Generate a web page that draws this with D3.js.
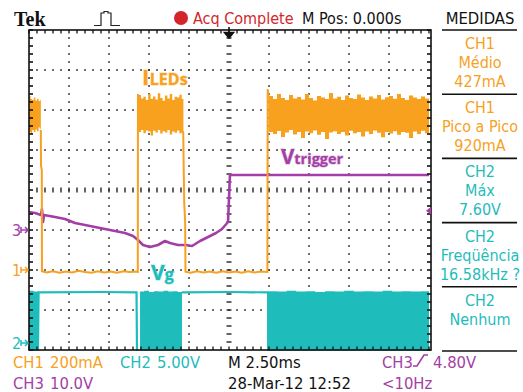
<!DOCTYPE html>
<html>
<head>
<meta charset="utf-8">
<script src="https://cdn.jsdelivr.net/npm/d3@7"></script>
<style>
  html, body { margin: 0; padding: 0; background: #fff; }
  svg { display: block; }
  .scope { font-family: "Liberation Sans Narrow", "DejaVu Sans Condensed", "Arial Narrow", sans-serif; }
</style>
</head>
<body>
<script>
// ---- channel settings ----
const timePerDiv = 2.5;          // ms / div
const ch1PerDiv = 200;           // mA / div
const ch2PerDiv = 5;             // V / div
const ch3PerDiv = 10;            // V / div
const ch1Ground = -2;            // ground offsets in divisions from centre
const ch2Ground = -3.8;
const ch3Ground = -1;
const ch3TriggerLevel = 4.8;     // V

// ---- CH1: LED current (mA) ----
// noisy "on" stretches: [t ms, upper envelope mA, lower envelope mA]
const ledBandA = [
  [-12.5, 870, 690], [-12.4, 855, 680], [-12.3, 850, 700], [-12.2, 862, 690],
  [-12.1, 848, 702], [-12.0, 856, 694], [-11.9, 845, 712], [-11.8, 850, 705], [-11.76, 850, 705]
];
const ledBandB = [
  [-5.66, 875, 690], [-5.5, 858, 700], [-5.35, 866, 684], [-5.2, 850, 698], [-5.05, 880, 692],
  [-4.9, 856, 672], [-4.75, 868, 696], [-4.6, 852, 688], [-4.45, 884, 700], [-4.3, 860, 682],
  [-4.15, 846, 694], [-4.0, 872, 688], [-3.85, 858, 700], [-3.7, 880, 678], [-3.55, 850, 692],
  [-3.4, 866, 686], [-3.25, 862, 698], [-3.1, 876, 684], [-2.95, 855, 692], [-2.85, 855, 692]
];
const ledBandC = [
  [2.47, 870, 690], [2.75, 855, 680], [3.0, 880, 695], [3.25, 860, 665], [3.5, 850, 688],
  [3.75, 875, 700], [4.0, 858, 678], [4.25, 865, 690], [4.5, 852, 660], [4.75, 880, 692],
  [5.0, 860, 684], [5.25, 848, 698], [5.5, 870, 676], [5.75, 862, 690], [6.0, 855, 655],
  [6.25, 885, 688], [6.5, 858, 694], [6.75, 866, 680], [7.0, 850, 690], [7.25, 872, 672],
  [7.5, 860, 696], [7.75, 855, 684], [8.0, 878, 690], [8.25, 862, 668], [8.5, 850, 692],
  [8.75, 868, 680], [9.0, 858, 698], [9.25, 875, 686], [9.5, 852, 664], [9.75, 864, 690],
  [10.0, 870, 682], [10.25, 856, 694], [10.5, 880, 676], [10.75, 860, 690], [11.0, 850, 686],
  [11.25, 872, 660], [11.5, 862, 692], [11.75, 855, 680], [12.0, 868, 696], [12.25, 858, 684],
  [12.5, 865, 690]
];
// edges and "off" stretches: [t ms, mA]
const ledTrace = [
  [-11.76, 700], [-11.75, 520], [-11.7, 500], [-11.69, -6], [-11.4, -12], [-11.0, -6],
  [-10.6, -14], [-10.2, -8], [-9.8, -12], [-9.4, -4], [-9.0, -10], [-8.6, -14], [-8.2, -6],
  [-7.8, -12], [-7.4, -8], [-7.0, -14], [-6.6, -6], [-6.2, -10], [-5.8, -8], [-5.7, -10],
  [-5.69, 880], [-5.66, 860], [-2.86, 690], [-2.84, 560], [-2.8, 340], [-2.74, 240],
  [-2.72, -8], [-2.4, -14], [-2.0, -6], [-1.6, -12], [-1.2, -8], [-0.8, -14], [-0.4, -6],
  [0.0, -12], [0.4, -8], [0.8, -14], [1.2, -6], [1.6, -12], [2.0, -8], [2.4, -10],
  [2.42, 905], [2.47, 870]
];

// ---- CH2: gate voltage (V) ----
// switching stretches: [t ms, upper envelope V]
const vgBlockA = [[-12.5, 6.4], [-12.2, 6.3], [-11.96, 6.35], [-11.94, 6.35]];
const vgBlockB = [
  [-5.56, 6.3], [-5.3, 6.4], [-5.0, 6.25], [-4.7, 6.35], [-4.4, 6.3], [-4.1, 6.4],
  [-3.8, 6.3], [-3.5, 6.35], [-3.2, 6.25], [-2.94, 6.3]
];
const vgBlockC = [
  [2.375, 6.35], [3.0, 6.3], [3.6, 6.4], [4.2, 6.3], [4.8, 6.35], [5.4, 6.25], [6.0, 6.35],
  [6.6, 6.3], [7.2, 6.4], [7.8, 6.3], [8.4, 6.35], [9.0, 6.3], [9.6, 6.4], [10.2, 6.3],
  [10.8, 6.35], [11.4, 6.3], [12.0, 6.35], [12.5, 6.35]
];
const vgFloor = -1.1;
// steady stretches: [t ms, V]
const vgTraceA = [[-11.94, -1.1], [-11.9, 6.2], [-8.0, 6.25], [-5.78, 6.2], [-5.75, -1.1]];
const vgTraceB = [[-2.95, 6.2], [0.0, 6.25], [2.38, 6.2]];

// ---- CH3: trigger voltage (V) ----
const vtrigTrace = [
  [-12.5, 4.5], [-12.125, 4.25], [-11.75, 3.75], [-11.69, 5.25], [-11.625, 2.0], [-11.56, 3.75],
  [-10.875, 3.25], [-10.25, 2.75], [-9.625, 1.75], [-9.0, 1.25], [-8.375, 0.75], [-7.75, 0.25],
  [-7.125, -0.25], [-6.5, -0.75], [-6.0, -1.5], [-5.69, -2.5], [-5.375, -3.75], [-4.94, -4.25],
  [-4.44, -3.75], [-4.0, -2.75], [-3.69, -3.25], [-3.19, -3.75], [-2.69, -3.75], [-2.31, -4.0],
  [-1.81, -2.75], [-1.31, -1.75], [-0.81, -0.75], [-0.44, 0.25], [-0.06, 2.0], [0.06, 13.75],
  [12.5, 13.75]
];

// ---- readouts ----
const topTexts = { acq: "Acq Complete", mpos: "M Pos: 0.000s", panel: "MEDIDAS" };
const measurements = [
  { lines: ["CH1", "Médio", "427mA"], ch: 1 },
  { lines: ["CH1", "Pico a Pico", "920mA"], ch: 1 },
  { lines: ["CH2", "Máx", "7.60V"], ch: 2 },
  { lines: ["CH2", "Freqüência", "16.58kHz ?"], ch: 2 },
  { lines: ["CH2", "Nenhum"], ch: 2 }
];
const bottomRow1 = [["CH1", 1], ["200mA", 1], ["CH2", 2], ["5.00V", 2], ["M 2.50ms", 0], ["CH3", 3], ["4.80V", 3]];
const bottomRow2 = [["CH3", 3], ["10.0V", 3], ["28-Mar-12 12:52", 0], ["<10Hz", 3]];

const colors = { 0: "#111", 1: "#f7a11e", 2: "#1fbcbc", 3: "#a43ea6", red: "#d2262b" };

// ---- layout ----
const W = 523, H = 392;
const plot = { left: 29, right: 429, top: 30, bottom: 350 };

const svg = d3.select("body").append("svg")
  .attr("width", W).attr("height", H).attr("class", "scope");

const x = d3.scaleLinear().domain([-5 * timePerDiv, 5 * timePerDiv]).range([plot.left, plot.right]);
const xDiv = d3.scaleLinear().domain([-5, 5]).range([plot.left, plot.right]);
const yDiv = d3.scaleLinear().domain([-4, 4]).range([plot.bottom, plot.top]);
const chScale = (perDiv, ground) =>
  d3.scaleLinear().domain([(-4 - ground) * perDiv, (4 - ground) * perDiv]).range([plot.bottom, plot.top]);
const y1 = chScale(ch1PerDiv, ch1Ground);
const y2 = chScale(ch2PerDiv, ch2Ground);
const y3 = chScale(ch3PerDiv, ch3Ground);

// ---- graticule ----
const grid = svg.append("g");
const minor = d3.range(-25, 26).map(i => i / 5);      // x minor positions (div)
const minorY = d3.range(-20, 21).map(i => i / 5);     // y minor positions (div)
const majorX = d3.range(-4, 5).filter(d => d !== 0);
const majorY = d3.range(-3, 4).filter(d => d !== 0);

// dotted division lines
majorX.forEach(dx => {
  grid.selectAll(null).data(minorY.slice(1, -1)).enter().append("rect")
    .attr("x", xDiv(dx) - 0.8).attr("y", d => yDiv(d) - 0.8)
    .attr("width", 1.6).attr("height", 1.6).attr("fill", "#222");
});
majorY.forEach(dy => {
  grid.selectAll(null).data(minor.slice(1, -1)).enter().append("rect")
    .attr("x", d => xDiv(d) - 0.8).attr("y", yDiv(dy) - 0.8)
    .attr("width", 1.6).attr("height", 1.6).attr("fill", "#222");
});
// centre axes with small tick marks
grid.selectAll(null).data(minor.slice(1, -1)).enter().append("line")
  .attr("x1", d => xDiv(d)).attr("x2", d => xDiv(d))
  .attr("y1", yDiv(0) - 2.5).attr("y2", yDiv(0) + 2.5)
  .attr("stroke", "#222").attr("stroke-width", 1.4);
grid.selectAll(null).data(minorY.slice(1, -1)).enter().append("line")
  .attr("x1", xDiv(0) - 2.5).attr("x2", xDiv(0) + 2.5)
  .attr("y1", d => yDiv(d)).attr("y2", d => yDiv(d))
  .attr("stroke", "#222").attr("stroke-width", 1.4);

// ---- traces ----
svg.append("defs").append("clipPath").attr("id", "plotClip")
  .append("rect").attr("x", plot.left).attr("y", plot.top)
  .attr("width", plot.right - plot.left + 2).attr("height", plot.bottom - plot.top + 2);
const traces = svg.append("g").attr("clip-path", "url(#plotClip)");

// CH2 (Vg)
const vgArea = d3.area().x(d => x(d[0])).y0(y2(vgFloor)).y1(d => y2(d[1])).curve(d3.curveStepAfter);
[vgBlockA, vgBlockB, vgBlockC].forEach(b =>
  traces.append("path").attr("d", vgArea(b)).attr("fill", colors[2]));
const vgLine = d3.line().x(d => x(d[0])).y(d => y2(d[1]));
[vgTraceA, vgTraceB].forEach(t =>
  traces.append("path").attr("d", vgLine(t)).attr("fill", "none")
    .attr("stroke", colors[2]).attr("stroke-width", 2.2));

// CH3 (Vtrigger)
traces.append("path")
  .attr("d", d3.line().x(d => x(d[0])).y(d => y3(d[1]))(vtrigTrace))
  .attr("fill", "none").attr("stroke", colors[3]).attr("stroke-width", 2.6)
  .attr("stroke-linejoin", "round");

// CH1 (ILEDs)
traces.append("path")
  .attr("d", d3.line().x(d => x(d[0])).y(d => y1(d[1]))(ledTrace))
  .attr("fill", "none").attr("stroke", colors[1]).attr("stroke-width", 2);
const ledArea = d3.area().x(d => x(d[0])).y0(d => y1(d[2])).y1(d => y1(d[1])).curve(d3.curveStepAfter);
[ledBandA, ledBandB, ledBandC].forEach(b =>
  traces.append("path").attr("d", ledArea(b)).attr("fill", colors[1]));

// ---- frame with ruler ticks ----
const frame = svg.append("g").attr("stroke", "#111");
frame.append("rect").attr("x", plot.left).attr("y", plot.top)
  .attr("width", plot.right - plot.left + 2).attr("height", plot.bottom - plot.top)
  .attr("fill", "none").attr("stroke-width", 1.6);
frame.selectAll(null).data(minor).enter().append("line")
  .attr("x1", d => xDiv(d)).attr("x2", d => xDiv(d))
  .attr("y1", plot.top).attr("y2", plot.top + 3.5).attr("stroke-width", 1.3);
frame.selectAll(null).data(minor).enter().append("line")
  .attr("x1", d => xDiv(d)).attr("x2", d => xDiv(d))
  .attr("y1", plot.bottom).attr("y2", plot.bottom - 3.5).attr("stroke-width", 1.3);
frame.selectAll(null).data(minorY).enter().append("line")
  .attr("x1", plot.left).attr("x2", plot.left + 4)
  .attr("y1", d => yDiv(d)).attr("y2", d => yDiv(d)).attr("stroke-width", 1.6);
frame.selectAll(null).data(minorY).enter().append("line")
  .attr("x1", plot.right + 2).attr("x2", plot.right - 2)
  .attr("y1", d => yDiv(d)).attr("y2", d => yDiv(d)).attr("stroke-width", 1.6);

// trigger position marker (t = 0)
svg.append("path")
  .attr("d", `M${x(0)},27 V33 M${x(0) - 4.5},32.5 H${x(0) + 4.5} L${x(0)},38 Z`)
  .attr("stroke", "#111").attr("stroke-width", 1.6).attr("fill", "#111");

// trigger level marker on the right edge (CH3)
svg.append("path")
  .attr("d", `M${plot.right - 3},${y3(ch3TriggerLevel)} l5,-4 v8 Z`)
  .attr("fill", colors[3]);

// channel ground markers
const groundMarks = [["3", 3, y3(0)], ["1", 1, y1(0)], ["2", 2, y2(0) + 1]];
groundMarks.forEach(([label, ch, gy]) => {
  svg.append("text").attr("x", 12).attr("y", gy).attr("dy", "0.36em")
    .attr("font-size", 16).attr("fill", colors[ch]).text(label);
  svg.append("path")
    .attr("d", `M21,${gy} H28 M25,${gy - 3} L28,${gy} L25,${gy + 3} M21,${gy - 3} V${gy + 3}`)
    .attr("stroke", colors[ch]).attr("stroke-width", 1.5).attr("fill", "none");
});

// ---- trace labels ----
const traceLabel = (xp, yp, big, small, color) => {
  const t = svg.append("text").attr("x", xp).attr("y", yp)
    .attr("font-family", "'Open Sans', 'DejaVu Sans', sans-serif").attr("font-weight", "bold")
    .attr("fill", color).attr("stroke", color).attr("stroke-opacity", 0.3)
    .attr("stroke-width", 1.4).attr("paint-order", "stroke");
  t.append("tspan").attr("font-size", big.size).text(big.text);
  t.append("tspan").attr("font-size", small.size).attr("dx", small.dx).text(small.text);
};
traceLabel(142, 85, { text: "I", size: 22 }, { text: "LEDs", size: 16, dx: 0.5 }, colors[1]);
traceLabel(281, 164, { text: "V", size: 20.5 }, { text: "trigger", size: 14.5, dx: 0 }, colors[3]);
traceLabel(151, 280, { text: "V", size: 21 }, { text: "g", size: 16, dx: 0 }, colors[2]);

// ---- header ----
svg.append("text").attr("x", 14).attr("y", 26)
  .attr("font-family", "'Liberation Serif', 'DejaVu Serif', serif").attr("font-weight", "bold")
  .attr("font-size", 20).attr("fill", "#111").text("Tek");
// trigger type icon (pulse)
svg.append("path").attr("d", "M94,25.5 H101 V13 H104 V11.5 H108 V13 H111 V25.5 H120")
  .attr("stroke", "#222").attr("fill", "none").attr("stroke-width", 1.2);
svg.append("circle").attr("cx", 181).attr("cy", 18).attr("r", 7).attr("fill", colors.red);
svg.append("text").attr("x", 193).attr("y", 23.5).attr("font-size", 16)
  .attr("fill", colors.red).text(topTexts.acq);
svg.append("text").attr("x", 302).attr("y", 23.5).attr("font-size", 16)
  .attr("fill", "#111").text(topTexts.mpos);
svg.append("text").attr("x", 480).attr("y", 23.5).attr("font-size", 16.5)
  .attr("text-anchor", "middle").attr("fill", "#111").text(topTexts.panel);

// ---- measurement panel ----
const panel = svg.append("g");
const sepY = d3.range(0, 6).map(i => 30 + i * 64.2);
panel.selectAll(null).data(sepY).enter().append("line")
  .attr("x1", 442).attr("x2", 517).attr("y1", d => d).attr("y2", d => d)
  .attr("stroke", "#111").attr("stroke-width", 1.6);
measurements.forEach((m, i) => {
  m.lines.forEach((line, j) => {
    panel.append("text").attr("x", 480).attr("y", sepY[i] + 19 + j * 19)
      .attr("text-anchor", "middle").attr("font-size", 16)
      .attr("fill", colors[m.ch]).text(line);
  });
});

// ---- bottom readouts ----
const row1X = [13, 50, 120, 157, 228, 382, 433];
const row2X = [13, 50, 228, 382];
bottomRow1.forEach(([txt, ch], i) =>
  svg.append("text").attr("x", row1X[i]).attr("y", 368).attr("font-size", 16.5)
    .attr("fill", colors[ch]).text(txt));
bottomRow2.forEach(([txt, ch], i) =>
  svg.append("text").attr("x", row2X[i]).attr("y", 389).attr("font-size", 16.5)
    .attr("fill", colors[ch]).text(txt));
// rising-edge slope symbol
svg.append("path").attr("d", "M413,366 H417 L424,355 H428")
  .attr("stroke", colors[3]).attr("stroke-width", 1.6).attr("fill", "none");
</script>
</body>
</html>
